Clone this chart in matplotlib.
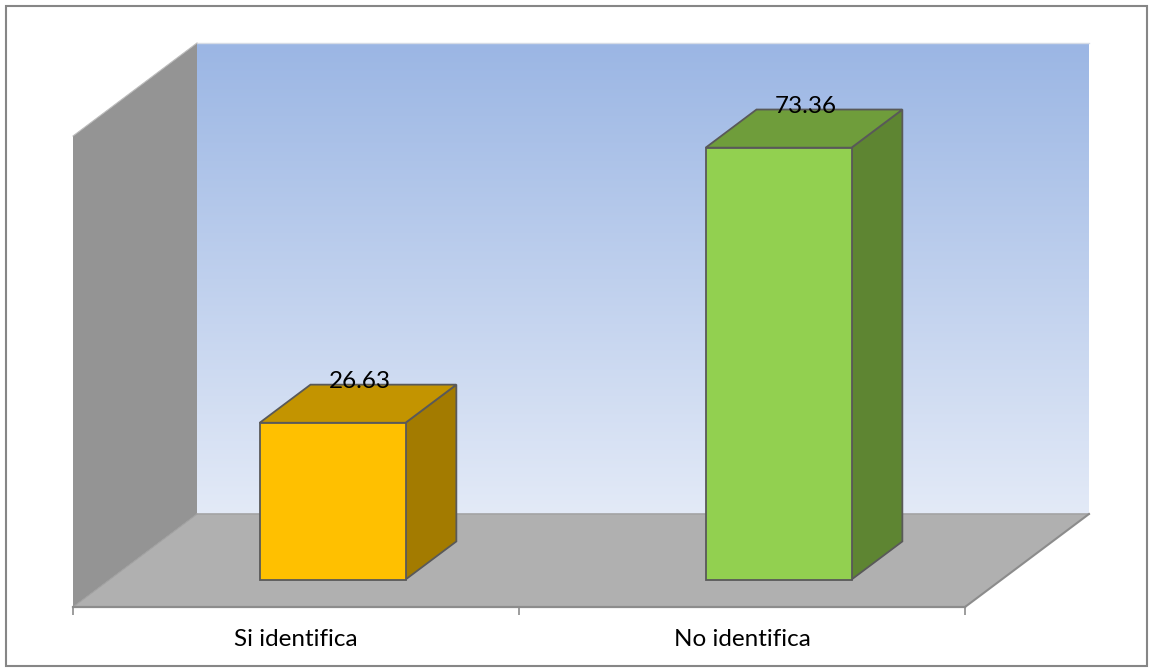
import numpy as np
import matplotlib
matplotlib.use("Agg")
import matplotlib.pyplot as plt
from matplotlib.patches import Polygon, Rectangle

# Data
categories = ["Si identifica", "No identifica"]
values = [26.63, 73.36]
front_colors = ["#FFC000", "#92D050"]
top_colors = ["#C39400", "#6F9D3B"]
side_colors = ["#A37B00", "#5E8532"]
value_max = 80

plt.rcParams["font.family"] = ["Lato", "DejaVu Sans"]

W, H = 1153, 672
fig = plt.figure(figsize=(W / 100, H / 100), dpi=100)

# Plot box: front floor edge and front-left wall top
x_left, x_right = 73, 965
y_floor, y_top = 607, 136
ax = fig.add_axes([x_left / W, (H - y_floor) / H,
                   (x_right - x_left) / W, (y_floor - y_top) / H])
ax.set_xlim(0, len(categories))
ax.set_ylim(0, value_max)
ax.patch.set_visible(False)

# Oblique depth vector (in data units) for the 3D look
px_per_cat = (x_right - x_left) / len(categories)
px_per_val = (y_floor - y_top) / value_max
DX = 124 / px_per_cat
DY = 93 / px_per_val


def P(x, y, z):
    return (x + z * DX, y + z * DY)


n = len(categories)

# Back wall with vertical gradient
grad = np.linspace(0, 1, 256)[:, None]
top_c = np.array([155, 182, 228]) / 255
bot_c = np.array([227, 234, 247]) / 255
img = top_c[None, None, :] * grad[..., None] + bot_c[None, None, :] * (1 - grad[..., None])
ax.imshow(img, extent=[DX, n + DX, DY, value_max + DY], origin="lower",
          aspect="auto", clip_on=False, zorder=0, interpolation="bilinear")
ax.plot([DX, n + DX], [value_max + DY] * 2, color="#D6DCE6", lw=1,
        clip_on=False, zorder=0.5)

# Left side wall
ax.add_patch(Polygon([P(0, 0, 0), P(0, value_max, 0), P(0, value_max, 1), P(0, 0, 1)],
                     closed=True, facecolor="#949494", edgecolor="none",
                     clip_on=False, zorder=1))
ax.plot(*zip(P(0, value_max, 0), P(0, value_max, 1)), color="#BDBDBD", lw=0.8,
        clip_on=False, zorder=1.1)

# Floor
ax.add_patch(Polygon([P(0, 0, 0), P(n, 0, 0), P(n, 0, 1), P(0, 0, 1)],
                     closed=True, facecolor="#B0B0B0", edgecolor="none",
                     clip_on=False, zorder=1.2))
ax.plot(*zip(P(0, 0, 1), P(n, 0, 1)), color="#A3A3A3", lw=1.2,
        clip_on=False, zorder=1.3)
ax.plot(*zip(P(n, 0, 0), P(n, 0, 1)), color="#8C8C8C", lw=1.5,
        clip_on=False, zorder=1.3)
ax.plot(*zip(P(0, 0, 0), P(0, 0, 1)), color="#A0A0A0", lw=0.8,
        clip_on=False, zorder=1.3)

# 3D bars
bar_w = 0.327
z0, z1 = 0.295, 0.705
edge = "#595959"
for i, (v, fc, tc, sc) in enumerate(zip(values, front_colors, top_colors, side_colors)):
    x0 = i + (1 - bar_w) / 2
    x1 = x0 + bar_w
    side = [P(x1, 0, z0), P(x1, 0, z1), P(x1, v, z1), P(x1, v, z0)]
    top = [P(x0, v, z0), P(x1, v, z0), P(x1, v, z1), P(x0, v, z1)]
    front = [P(x0, 0, z0), P(x1, 0, z0), P(x1, v, z0), P(x0, v, z0)]
    for poly, c in ((side, sc), (top, tc), (front, fc)):
        ax.add_patch(Polygon(poly, closed=True, facecolor=c, edgecolor=edge,
                             lw=1.3, joinstyle="miter", clip_on=False, zorder=3))
    lx, ly = P(i + 0.5, v, 0.5)
    ax.annotate(f"{v:.2f}", (lx, ly), xytext=(1, 11), textcoords="offset points",
                ha="center", va="baseline", fontsize=17.5, color="black",
                zorder=4, annotation_clip=False)

# Category axis along the front floor edge
for s in ("left", "right", "top"):
    ax.spines[s].set_visible(False)
ax.spines["bottom"].set_color("#8C8C8C")
ax.spines["bottom"].set_linewidth(1.6)
ax.spines["bottom"].set_zorder(2)
ax.set_yticks([])
ax.set_xticks(np.arange(n + 1))
ax.set_xticklabels([])
ax.tick_params(axis="x", which="major", length=5.5, width=1.2, color="#8C8C8C",
               direction="out")
ax.set_xticks(np.arange(n) + 0.5, minor=True)
ax.set_xticklabels(categories, minor=True, fontsize=17.5)
ax.tick_params(axis="x", which="minor", length=0, pad=16)

# Chart area border
fig.patches.append(Rectangle((6 / W, 6 / H), (1147 - 6) / W, (666 - 6) / H,
                             transform=fig.transFigure, fill=False,
                             edgecolor="#868686", lw=1.5))

fig.savefig("out.png", dpi=100)
